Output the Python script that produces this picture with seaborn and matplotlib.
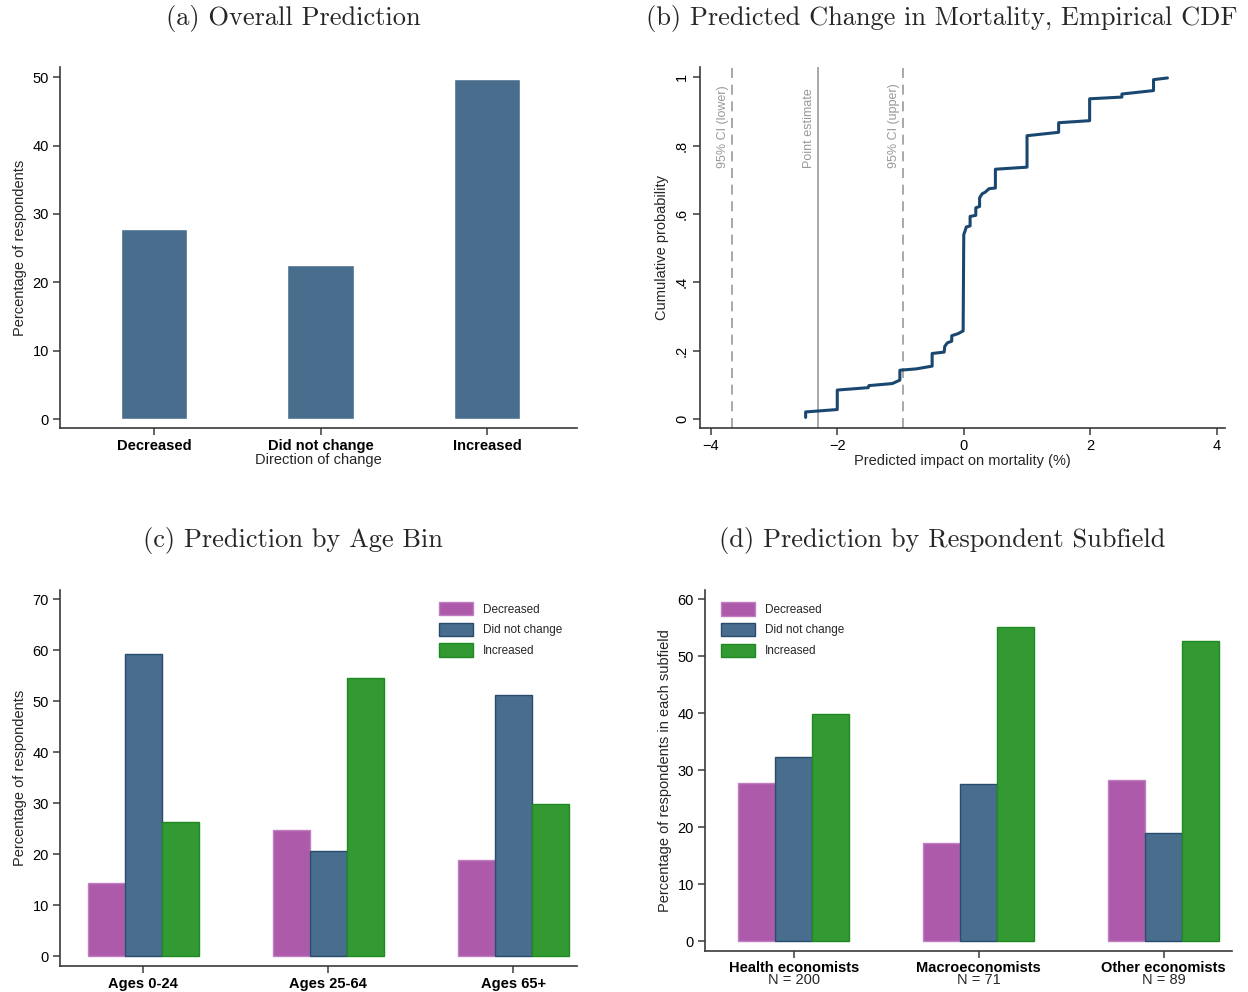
"""Survey predictions figure: four panels."""

import matplotlib

matplotlib.use("Agg")
import matplotlib.pyplot as plt
import pandas as pd
import seaborn as sns

# ---- data ----
directions = ["Decreased", "Did not change", "Increased"]
overall_pct = [27.8, 22.6, 49.7]

age_bins = ["Ages 0-24", "Ages 25-64", "Ages 65+"]
age_decreased = [14.3, 24.7, 18.8]
age_no_change = [59.2, 20.6, 51.2]
age_increased = [26.3, 54.5, 29.8]

subfields = ["Health economists", "Macroeconomists", "Other economists"]
subfield_n = [200, 71, 89]
sub_decreased = [27.7, 17.2, 28.2]
sub_no_change = [32.3, 27.5, 18.9]
sub_increased = [39.8, 55.1, 52.6]

# empirical CDF of predicted impact (points of the plotted line)
cdf_x = [-2.50, -2.50, -2.00, -2.00, -1.51, -1.50, -1.13, -1.07, -1.01, -1.01,
         -0.75, -0.50, -0.50, -0.31, -0.30, -0.26, -0.19, -0.19, -0.09, -0.01,
         0.00, 0.02, 0.04, 0.10, 0.10, 0.19, 0.19, 0.25, 0.25, 0.29,
         0.34, 0.40, 0.50, 0.50, 1.00, 1.00, 1.50, 1.50, 1.99, 1.99,
         2.50, 2.50, 3.00, 3.00, 3.22]
cdf_y = [0.005, 0.021, 0.028, 0.085, 0.092, 0.098, 0.104, 0.109, 0.114, 0.143,
         0.147, 0.155, 0.192, 0.196, 0.213, 0.223, 0.228, 0.244, 0.250, 0.258,
         0.540, 0.550, 0.562, 0.565, 0.593, 0.596, 0.618, 0.622, 0.647, 0.659,
         0.664, 0.674, 0.676, 0.731, 0.737, 0.829, 0.839, 0.867, 0.873, 0.937,
         0.942, 0.951, 0.961, 0.993, 0.998]
ci_lower = -3.657
point_estimate = -2.305
ci_upper = -0.954

# ---- style ----
sns.set_theme(style="ticks")
plt.rcParams["font.family"] = ["Liberation Sans", "DejaVu Sans"]
plt.rcParams["axes.edgecolor"] = "#3a3a3a"
plt.rcParams["xtick.color"] = "#3a3a3a"
plt.rcParams["ytick.color"] = "#3a3a3a"
plt.rcParams["xtick.labelcolor"] = "black"
plt.rcParams["ytick.labelcolor"] = "black"
plt.rcParams["axes.linewidth"] = 1.2

NAVY_BAR = "#496d8c"
MAGENTA = "#ad5aab"
GREEN = "#339933"
LINE_NAVY = "#1a476f"
EDGES = {"Decreased": "#c080c0", "Did not change": "#2a4c6c", "Increased": "#1f8a1f"}
PALETTE = {"Decreased": MAGENTA, "Did not change": NAVY_BAR, "Increased": GREEN}
TITLE_FONT = dict(family="cmr10", size=19)

fig = plt.figure(figsize=(12.48, 9.92), dpi=100)
W, H = 1248, 992


def add_axes(left, top, right, bottom):
    return fig.add_axes([left / W, 1 - bottom / H, (right - left) / W, (bottom - top) / H])


ax_a = add_axes(60, 67, 577, 428)
ax_b = add_axes(700, 67, 1225, 428)
ax_c = add_axes(60, 590, 577, 966)
ax_d = add_axes(705, 590, 1232, 951)

for ax in (ax_a, ax_b, ax_c, ax_d):
    sns.despine(ax=ax)
    ax.tick_params(length=5, width=1.1, labelsize=10.5, pad=3)
ax_d.tick_params(axis="x", pad=2)

# ---- (a) overall prediction ----
df_a = pd.DataFrame({"direction": directions, "pct": overall_pct})
sns.barplot(data=df_a, x="direction", y="pct", color=NAVY_BAR, saturation=1,
            width=0.4, ax=ax_a)
ax_a.set_xlim(-0.565, 2.54)
ax_a.set_ylim(-1.3, 51.5)
ax_a.set_yticks([0, 10, 20, 30, 40, 50])
ax_a.set_ylabel("Percentage of respondents", fontsize=10.5)
ax_a.set_xlabel("Direction of change", fontsize=10.5, labelpad=0)
for lab in ax_a.get_xticklabels():
    lab.set_fontweight("bold")

# ---- (b) empirical CDF ----
for xv, ls, lab in [(ci_lower, (0, (6, 4)), "95% CI (lower)"),
                    (point_estimate, "-", "Point estimate"),
                    (ci_upper, (0, (6, 4)), "95% CI (upper)")]:
    ax_b.axvline(xv, color="#999999", lw=1.2, ls=ls, zorder=1)
    ax_b.text(xv - 0.05, 0.735, lab, rotation=90, ha="right", va="bottom",
              color="#999999", fontsize=9)
sns.lineplot(x=cdf_x, y=cdf_y, estimator=None, sort=False, color=LINE_NAVY,
             lw=2.2, ax=ax_b, zorder=3)
ax_b.set_xlim(-4.17, 4.13)
ax_b.set_ylim(-0.026, 1.03)
ax_b.set_xticks([-4, -2, 0, 2, 4])
ax_b.set_yticks([0, 0.2, 0.4, 0.6, 0.8, 1.0])
ax_b.set_yticklabels(["0", ".2", ".4", ".6", ".8", "1"], rotation=90, va="center")
ax_b.set_xlabel("Predicted impact on mortality (%)", fontsize=10.5, labelpad=1)
ax_b.set_ylabel("Cumulative probability", fontsize=10.5)


def grouped(ax, groups, dec, nochg, inc):
    df = pd.DataFrame({
        "group": groups * 3,
        "answer": ["Decreased"] * 3 + ["Did not change"] * 3 + ["Increased"] * 3,
        "pct": dec + nochg + inc,
    })
    sns.barplot(data=df, x="group", y="pct", hue="answer", hue_order=directions,
                palette=PALETTE, saturation=1, width=0.6, legend=False, ax=ax)
    for cont, name in zip(ax.containers, directions):
        for p in cont:
            p.set_edgecolor(EDGES[name])
            p.set_linewidth(1.0)
        cont.set_label(name)
    return ax.containers


LEGEND_KW = dict(frameon=False, fontsize=8.5, borderaxespad=0, borderpad=0,
                 handlelength=2.9, handleheight=1.35, labelspacing=0.6,
                 handletextpad=0.85, loc="upper left")

# ---- (c) by age bin ----
conts = grouped(ax_c, age_bins, age_decreased, age_no_change, age_increased)
ax_c.set_xlim(-0.45, 2.345)
ax_c.set_ylim(-1.96, 71.8)
ax_c.set_yticks(range(0, 71, 10))
ax_c.set_xlabel("")
ax_c.set_ylabel("Percentage of respondents", fontsize=10.5)
for lab in ax_c.get_xticklabels():
    lab.set_fontweight("bold")
ax_c.legend(handles=list(conts), labels=directions,
            bbox_to_anchor=(0.733, 0.968), **LEGEND_KW)

# ---- (d) by subfield ----
conts = grouped(ax_d, subfields, sub_decreased, sub_no_change, sub_increased)
ax_d.set_xlim(-0.48, 2.37)
ax_d.set_ylim(-1.75, 61.6)
ax_d.set_yticks(range(0, 61, 10))
ax_d.set_xlabel("")
ax_d.set_ylabel("Percentage of respondents in each subfield", fontsize=10.5)
for lab in ax_d.get_xticklabels():
    lab.set_fontweight("bold")
for i, n in enumerate(subfield_n):
    ax_d.annotate(f"N = {n}", xy=(i, 0), xycoords=("data", "axes fraction"),
                  xytext=(0, -16), textcoords="offset points", ha="center",
                  va="top", fontsize=10.5)
ax_d.legend(handles=list(conts), labels=directions,
            bbox_to_anchor=(0.030, 0.966), **LEGEND_KW)

# ---- panel titles ----
fig.text(293 / W, 1 - 18 / H, "(a) Overall Prediction", ha="center", va="center", **TITLE_FONT)
fig.text(942 / W, 1 - 18 / H, "(b) Predicted Change in Mortality, Empirical CDF",
         ha="center", va="center", **TITLE_FONT)
fig.text(293 / W, 1 - 541 / H, "(c) Prediction by Age Bin", ha="center", va="center", **TITLE_FONT)
fig.text(942 / W, 1 - 541 / H, "(d) Prediction by Respondent Subfield",
         ha="center", va="center", **TITLE_FONT)

fig.savefig("out.png", dpi=100)
